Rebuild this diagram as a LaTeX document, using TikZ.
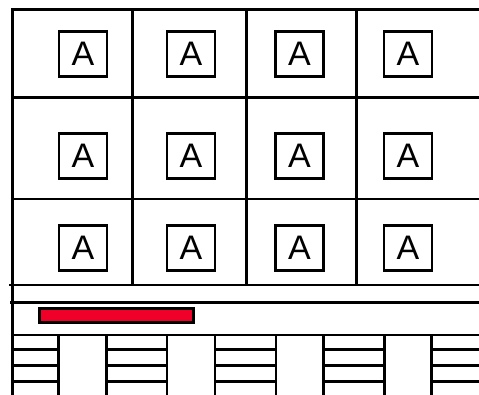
\documentclass[tikz,border=0pt]{standalone}
\usepackage{fontspec}
\setmainfont{Liberation Sans}
\definecolor{barred}{RGB}{240,0,40}
\begin{document}
\begin{tikzpicture}[x=1pt,y=-1pt,
  rule/.style={line width=2.8pt,line cap=rect},
  abox/.style={draw,line width=2.8pt,minimum width=48pt,minimum height=45pt,inner sep=0pt,font=\fontsize{34}{34}\selectfont},
  pillar/.style={draw,fill=white,line width=2.8pt}]
\useasboundingbox (0,0) rectangle (479,395);
\begin{scope}
\clip (0,0) rectangle (479,395);
% grid
\draw[rule] (12.5,9.5) -- (479,9.5);
\draw[rule] (12.5,97.5) -- (479,97.5);
\draw[rule] (12.5,199) -- (479,199);
\draw[rule] (10,285) -- (479,285);
\draw[rule] (11,302.7) -- (479,302.7);
\draw[rule] (12.5,335) -- (479,335);
\draw[rule] (12.5,9.5) -- (12.5,400);
\foreach \x in {132.7,246.7,356.7} \draw[rule] (\x,9.5) -- (\x,285);
% stripes
\foreach \y in {349.5,365.5,381.5} \draw[rule] (12.5,\y) -- (479,\y);
% pillars
\draw[pillar] (58.3,335) rectangle (106.7,400);
\draw[pillar] (167,335) rectangle (215,400);
\draw[pillar] (276,335) rectangle (323.5,400);
\draw[pillar] (384.3,335) rectangle (431.5,400);
\end{scope}
% red bar
\node[draw,fill=barred,line width=2.8pt,minimum width=154pt,minimum height=13.5pt,inner sep=0pt] (bar) at (116.5,315.5) {};
% A boxes
\foreach \x/\c in {83/1,191/2,299.5/3,408/4}
  \foreach \y/\r in {54.2/1,155.8/2,248.3/3}
    \node[abox] (a\r\c) at (\x,\y) {A};
\end{tikzpicture}
\end{document}
